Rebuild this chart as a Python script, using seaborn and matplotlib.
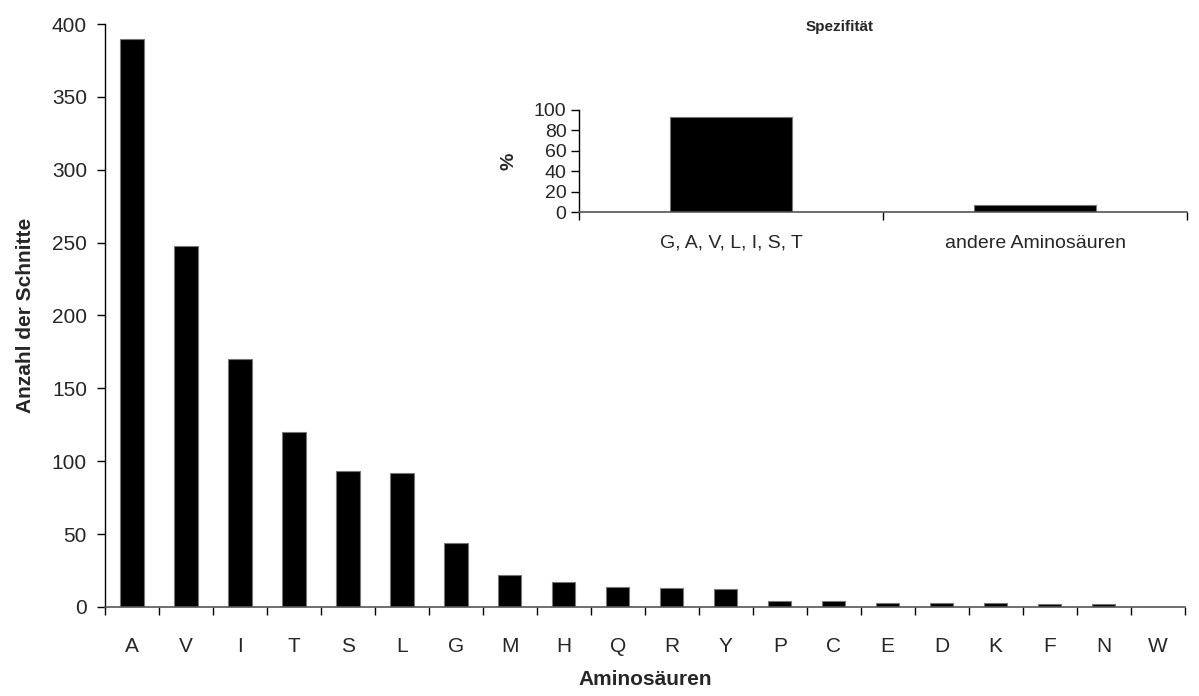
import matplotlib
matplotlib.use("Agg")
import matplotlib.pyplot as plt
import numpy as np
import pandas as pd
import seaborn as sns
from matplotlib.ticker import FixedLocator

# Schnitte pro Aminosäure
AMINO_ACIDS = ["A", "V", "I", "T", "S", "L", "G", "M", "H", "Q",
               "R", "Y", "P", "C", "E", "D", "K", "F", "N", "W"]
CUT_COUNTS = [390, 248, 170, 120, 93, 92, 44, 22, 17, 14,
              13, 12, 4, 4, 3, 3, 3, 1.8, 1.8, 0]

# Spezifität (Inset)
SPEC_GROUPS = ["G, A, V, L, I, S, T", "andere Aminosäuren"]
SPEC_PERCENT = [93, 7.5]

sns.set_theme(style="white")
plt.rcParams["font.family"] = ["Liberation Sans", "DejaVu Sans"]

AXIS_COLOR = "#555555"


def style_excel_axes(ax, n_cats):
    sns.despine(ax=ax)
    ax.spines["left"].set_color("black")
    ax.spines["bottom"].set_color(AXIS_COLOR)
    ax.spines["left"].set_linewidth(1.0)
    ax.spines["bottom"].set_linewidth(1.2)
    ax.set_xlim(-0.5, n_cats - 0.5)
    ax.xaxis.set_minor_locator(FixedLocator(np.arange(-0.5, n_cats, 1.0)))
    ax.tick_params(axis="x", which="major", length=0)
    ax.tick_params(axis="x", which="minor", length=6, width=1, color="black",
                   direction="out", bottom=True)
    ax.tick_params(axis="y", length=6, width=1, color="black",
                   direction="out", left=True)


main_df = pd.DataFrame({"aa": AMINO_ACIDS, "count": CUT_COUNTS})
spec_df = pd.DataFrame({"group": SPEC_GROUPS, "pct": SPEC_PERCENT})

fig = plt.figure(figsize=(11.99, 6.96), dpi=100)
ax = fig.add_axes([0.0876, 0.128, 0.9004, 0.8375])

sns.barplot(data=main_df, x="aa", y="count", ax=ax, color="black",
            width=0.43, edgecolor="#777777", linewidth=0.8, saturation=1)
style_excel_axes(ax, len(AMINO_ACIDS))
ax.set_ylim(0, 400)
ax.set_yticks(range(0, 401, 50))
ax.tick_params(axis="both", labelsize=15, pad=7)
ax.tick_params(axis="x", pad=22)
ax.set_xlabel("Aminosäuren", fontsize=15, fontweight="bold", labelpad=10)
ax.set_ylabel("Anzahl der Schnitte", fontsize=15, fontweight="bold", labelpad=12)

# Inset
ins = fig.add_axes([0.483, 0.695, 0.507, 0.147])
sns.barplot(data=spec_df, x="group", y="pct", ax=ins, color="black",
            width=0.4, edgecolor="#777777", linewidth=0.8, saturation=1)
style_excel_axes(ins, len(SPEC_GROUPS))
ins.set_ylim(0, 100)
ins.set_yticks(range(0, 101, 20))
ins.tick_params(axis="both", labelsize=14, pad=3)
ins.tick_params(axis="x", pad=16)
ins.set_xlabel("")
ins.set_ylabel("%", fontsize=14, fontweight="bold", labelpad=12)
fig.text(0.7, 0.961, "Spezifität", ha="center", va="center",
         fontsize=11, fontweight="bold")

fig.savefig("out.png", dpi=100)
plt.close(fig)
